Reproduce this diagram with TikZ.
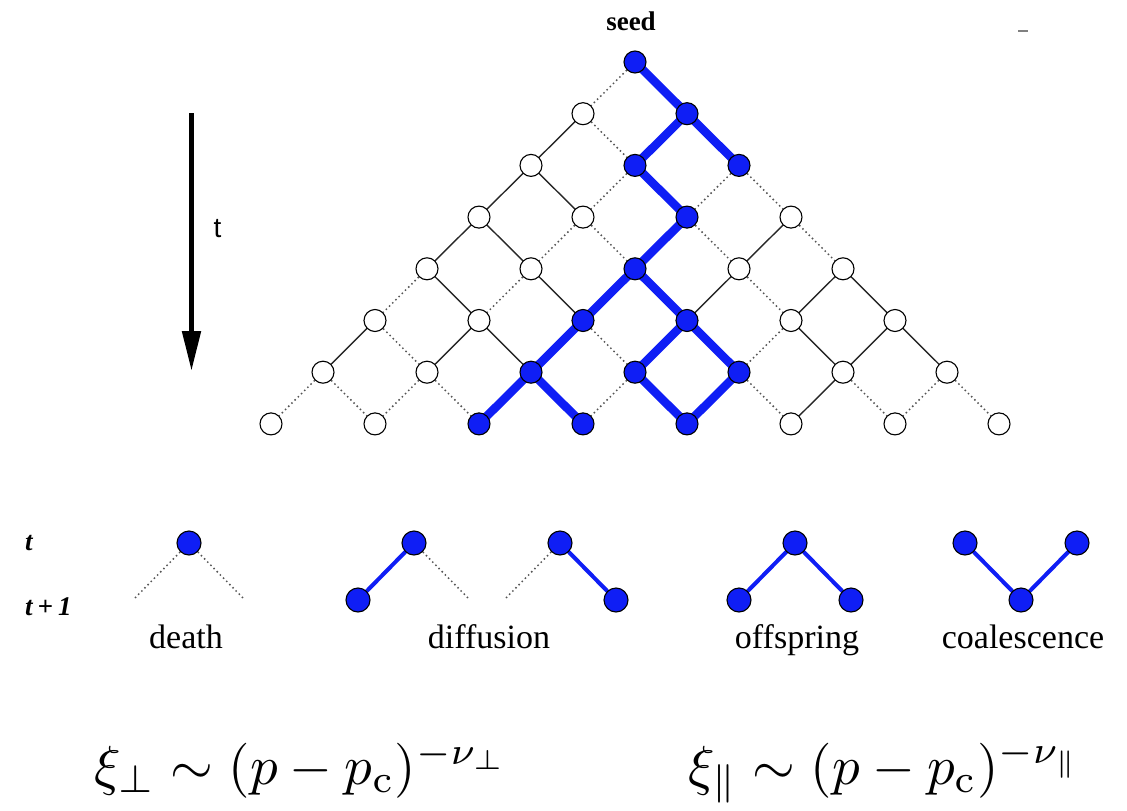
\documentclass[tikz,border=0pt]{standalone}
\usepackage[no-math]{fontspec}
\setmainfont{Liberation Serif}
\newfontfamily\sansfont{Liberation Sans}
\usetikzlibrary{arrows.meta,backgrounds}
\definecolor{pblue}{RGB}{15,30,245}
\definecolor{dotgray}{RGB}{85,85,85}
\tikzset{
  site/.style={circle,draw=black,line width=1.1pt,fill=white,minimum size=22pt,inner sep=0pt},
  occ/.style={site,fill=pblue},
  bigsite/.style={circle,draw=black,line width=1.1pt,fill=pblue,minimum size=24pt,inner sep=0pt},
  bond/.style={line width=1.4pt,black!85},
  nobond/.style={line width=1.5pt,dotgray,dash pattern=on 1.5pt off 3pt},
  active/.style={line width=8.5pt,pblue},
  thinactive/.style={line width=4pt,pblue},
  lbl/.style={font=\fontsize{34}{40}\selectfont,anchor=base,inner sep=0pt},
  tlbl/.style={font=\bfseries\itshape\fontsize{27}{32}\selectfont,anchor=base west,inner sep=0pt},
  formula/.style={anchor=base west,scale=5.5,inner sep=0pt},
}
\begin{document}
\begin{tikzpicture}[x=1pt,y=-1pt]
\useasboundingbox (0,0) rectangle (1127,811);

% lattice sites
\foreach \r/\c in {1/0,2/0,3/0,3/1,3/3,4/0,4/1,4/3,4/4,5/0,5/1,5/4,5/5,6/0,6/1,6/5,6/6,7/0,7/1,7/5,7/6,7/7}{
  \node[site] (n\r-\c) at ({635-52*\r+104*\c},{62+51.7*\r}) {};
}
\foreach \r/\c in {0/0,1/1,2/1,2/2,3/2,4/2,5/2,5/3,6/2,6/3,6/4,7/2,7/3,7/4}{
  \node[occ] (n\r-\c) at ({635-52*\r+104*\c},{62+51.7*\r}) {};
}

\node[font=\bfseries\fontsize{27}{32}\selectfont,anchor=base,inner sep=0pt] (seed) at (631,30) {seed};
\draw[gray,line width=1.5pt] (1018,31) -- (1028,31);

% time arrow
\coordinate (ta) at (191.5,113);
\coordinate (tb) at (191.5,371);
\draw[line width=5pt,-{Triangle[width=18pt,length=40pt]}] (ta) -- (tb);
\node[font=\sansfont\fontsize{28}{32}\selectfont,anchor=base,inner sep=0pt] (tlab) at (217.5,237) {t};

% processes
\node[tlbl] (lt) at (25,550) {t};
\node[tlbl] (lt1) at (25,615) {t\kern5pt+\kern5pt1};

\node[bigsite] (d0) at (189,543) {};
\coordinate (dl) at (133,600);
\coordinate (dr) at (245,600);

\node[bigsite] (a1) at (414,543) {};
\node[bigsite] (a2) at (358,600) {};
\coordinate (a3) at (470,600);

\coordinate (b3) at (504,600);
\node[bigsite] (b1) at (560,543) {};
\node[bigsite] (b2) at (616,600) {};

\node[bigsite] (c1) at (795,543) {};
\node[bigsite] (c2) at (739,600) {};
\node[bigsite] (c3) at (851,600) {};

\node[bigsite] (e1) at (965,543) {};
\node[bigsite] (e2) at (1077,543) {};
\node[bigsite] (e3) at (1021,600) {};

\node[lbl] (ldeath) at (186,648) {death};
\node[lbl] (ldiff) at (489,648) {diffusion};
\node[lbl] (loff) at (797,648) {offspring};
\node[lbl] (lcoal) at (1023,648) {coalescence};

\node[formula] (f1) at (93,784) {$\xi_\perp \sim (p-p_{\mathrm{c}})^{-\nu_\perp}$};
\node[formula] (f2) at (687,784) {$\xi_\parallel \sim (p-p_{\mathrm{c}})^{-\nu_\parallel}$};

\begin{scope}[on background layer]
\foreach \r/\c/\d in {0/0/0,1/0/1,2/1/0,2/2/0,2/2/1,3/1/0,3/1/1,3/2/1,3/3/1,4/0/0,4/1/0,4/3/1,5/0/1,5/2/1,5/4/0,6/0/0,6/0/1,6/1/0,6/1/1,6/3/0,6/4/1,6/5/1,6/6/0,6/6/1}{
  \pgfmathtruncatemacro\rn{\r+1}\pgfmathtruncatemacro\cn{\c+\d}
  \draw[nobond] (n\r-\c) -- (n\rn-\cn);
}
\foreach \r/\c/\d in {1/0/0,2/0/0,2/0/1,3/0/0,3/0/1,3/3/0,4/0/1,4/1/1,4/3/0,4/4/0,4/4/1,5/0/0,5/1/0,5/1/1,5/4/1,5/5/0,5/5/1,6/5/0}{
  \pgfmathtruncatemacro\rn{\r+1}\pgfmathtruncatemacro\cn{\c+\d}
  \draw[bond] (n\r-\c.center) -- (n\rn-\cn.center);
}
\foreach \r/\c/\d in {0/0/1,1/1/0,1/1/1,2/1/1,3/2/0,4/2/0,4/2/1,5/2/0,5/3/0,5/3/1,6/2/0,6/2/1,6/3/1,6/4/0}{
  \pgfmathtruncatemacro\rn{\r+1}\pgfmathtruncatemacro\cn{\c+\d}
  \draw[active] (n\r-\c.center) -- (n\rn-\cn.center);
}
\draw[nobond] (d0) -- (dl);
\draw[nobond] (d0) -- (dr);
\draw[thinactive] (a1.center) -- (a2.center);
\draw[nobond] (a1) -- (a3);
\draw[nobond] (b1) -- (b3);
\draw[thinactive] (b1.center) -- (b2.center);
\draw[thinactive] (c1.center) -- (c2.center);
\draw[thinactive] (c1.center) -- (c3.center);
\draw[thinactive] (e1.center) -- (e3.center);
\draw[thinactive] (e2.center) -- (e3.center);
\end{scope}
\end{tikzpicture}
\end{document}
